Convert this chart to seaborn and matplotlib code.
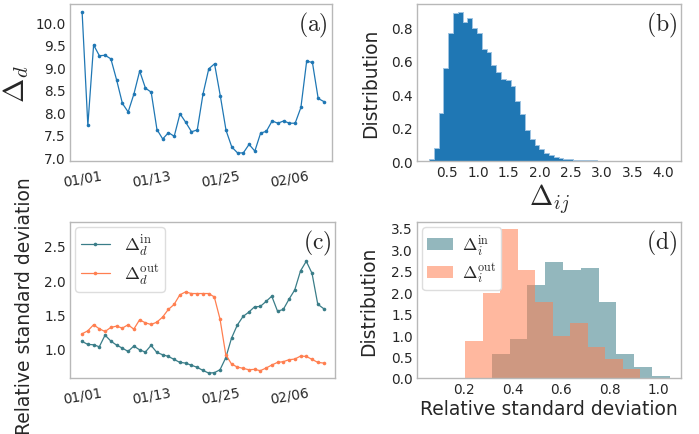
import numpy as np
import pandas as pd
import matplotlib
matplotlib.use('Agg')
import matplotlib.pyplot as plt
from matplotlib.patches import Patch
import seaborn as sns

sns.set_style('white')
plt.rcParams['font.family'] = ['DejaVu Sans']
plt.rcParams['mathtext.fontset'] = 'cm'

# ---------------- data ----------------
date_labels = ['01/01', '01/13', '01/25', '02/06']
date_tick_days = [0, 12, 24, 36]

delta_d = [10.24, 7.71, 9.50, 9.26, 9.27, 9.19, 8.72, 8.20, 8.01, 8.41,
           8.92, 8.54, 8.45, 7.62, 7.41, 7.55, 7.47, 7.97, 7.78, 7.57,
           7.61, 8.41, 8.97, 9.08, 8.37, 7.60, 7.23, 7.10, 7.10, 7.29,
           7.14, 7.54, 7.58, 7.81, 7.76, 7.81, 7.76, 7.76, 8.11, 9.14,
           9.11, 8.31, 8.24]

rsd_in = [1.107, 1.063, 1.058, 1.029, 1.199, 1.112, 1.053, 1.010, 0.961, 1.039,
          0.985, 0.951, 1.049, 0.947, 0.913, 0.888, 0.845, 0.801, 0.791, 0.760,
          0.730, 0.685, 0.646, 0.650, 0.694, 0.869, 1.155, 1.345, 1.471, 1.534,
          1.612, 1.617, 1.690, 1.767, 1.549, 1.573, 1.723, 1.859, 2.136, 2.277,
          2.102, 1.650, 1.587]

rsd_out = [1.218, 1.262, 1.350, 1.291, 1.252, 1.311, 1.330, 1.301, 1.350, 1.286,
           1.422, 1.379, 1.354, 1.388, 1.461, 1.573, 1.646, 1.786, 1.830, 1.806,
           1.806, 1.806, 1.806, 1.757, 1.432, 0.913, 0.777, 0.733, 0.714, 0.694,
           0.699, 0.680, 0.718, 0.762, 0.801, 0.811, 0.840, 0.849, 0.893, 0.888,
           0.845, 0.801, 0.791]

dij_start, dij_width = 0.21, 0.0776
dij_density = [0.012, 0.076, 0.287, 0.559, 0.768, 0.886, 0.890, 0.830, 0.858, 0.796,
               0.768, 0.667, 0.651, 0.577, 0.535, 0.492, 0.486, 0.450, 0.356, 0.279,
               0.187, 0.133, 0.094, 0.074, 0.050, 0.034, 0.024, 0.018, 0.013, 0.009,
               0.006, 0.005, 0.004, 0.003, 0.003, 0.002, 0.002, 0.001, 0.001, 0.001,
               0.001, 0.001, 0.0005, 0.0005, 0.0005, 0.0005, 0.0003, 0.0003, 0.0003, 0.0003]

in_start, in_width = 0.314, 0.0734
in_density = [0.565, 0.90, 2.17, 2.69, 2.51, 2.55, 1.76, 0.565, 0.25, 0.054]

out_start, out_width = 0.204, 0.0722
out_density = [0.87, 1.97, 3.46, 2.51, 1.78, 0.976, 1.29, 0.73, 0.44, 0.22]

# ---------------- style ----------------
W, H = 699, 435
fig = plt.figure(figsize=(W / 100, H / 100), dpi=100)

SPINE = '#b8b8b8'
TICK_FS = 9.8
LAB_FS = 13.5
PANEL_FS = 17
C_BLUE = '#1f77b4'
C_IN = '#3a7d88'
C_OUT = '#ff7f50'


def box(l, t, r, b):
    return [l / W, 1 - b / H, (r - l) / W, (b - t) / H]


def style(ax):
    for s in ax.spines.values():
        s.set_color(SPINE)
        s.set_linewidth(1.0)
    ax.tick_params(axis='both', which='major', labelsize=TICK_FS, length=0, pad=3)


def panel(ax, txt):
    ax.text(0.985, 0.965, r'$\mathrm{(%s)}$' % txt, transform=ax.transAxes,
            ha='right', va='top', fontsize=PANEL_FS)


def date_axis(ax, n):
    ax.set_xticks(date_tick_days)
    ax.set_xticklabels(date_labels, rotation=10)
    ax.set_xticks(np.arange(n), minor=True)
    ax.tick_params(axis='x', which='minor', length=2, width=0.6, color='#999999')
    ax.tick_params(axis='x', which='major', length=2, width=0.6, color='#999999')


# (a)
ax_a = fig.add_axes(box(70, 5, 332, 162))
days = np.arange(len(delta_d))
sns.lineplot(x=days, y=delta_d, ax=ax_a, color=C_BLUE, lw=0.9,
             marker='o', ms=2.6, mew=0)
style(ax_a)
date_axis(ax_a, len(delta_d))
ax_a.set_xlim(-2.1, 43.4)
ax_a.set_ylim(6.92, 10.41)
ax_a.set_yticks([7.0, 7.5, 8.0, 8.5, 9.0, 9.5, 10.0])
ax_a.set_ylabel(r'$\Delta_d$', fontsize=21)
ax_a.yaxis.set_label_coords(-0.15, 0.5)
ax_a.set_xlabel('')
panel(ax_a, 'a')

# (b)
ax_b = fig.add_axes(box(417, 5, 681, 162))
n_b = len(dij_density)
centers_b = dij_start + dij_width * (np.arange(n_b) + 0.5)
sns.histplot(x=centers_b, weights=dij_density, bins=n_b,
             binrange=(dij_start, dij_start + n_b * dij_width),
             ax=ax_b, color=C_BLUE, alpha=1.0, element='step',
             edgecolor='#9fc4e2', linewidth=0.7)
style(ax_b)
ax_b.set_xlim(0.015, 4.286)
ax_b.set_ylim(0, 0.939)
ax_b.set_xticks([0.5, 1.0, 1.5, 2.0, 2.5, 3.0, 3.5, 4.0])
ax_b.set_yticks([0.0, 0.2, 0.4, 0.6, 0.8])
ax_b.set_ylabel('Distribution', fontsize=LAB_FS)
ax_b.yaxis.set_label_coords(-0.14, 0.5)
ax_b.set_xlabel(r'$\Delta_{ij}$', fontsize=20, labelpad=2)
panel(ax_b, 'b')

# (c)
ax_c = fig.add_axes(box(70, 223, 335, 379))
days_c = np.arange(len(rsd_in))
sns.lineplot(x=days_c, y=rsd_in, ax=ax_c, color=C_IN, lw=0.9,
             marker='o', ms=2.6, mew=0, label=r'$\Delta_d^{\mathrm{in}}$')
sns.lineplot(x=days_c, y=rsd_out, ax=ax_c, color=C_OUT, lw=0.9,
             marker='o', ms=2.6, mew=0, label=r'$\Delta_d^{\mathrm{out}}$')
style(ax_c)
date_axis(ax_c, len(rsd_in))
ax_c.set_xlim(-2.1, 44.0)
ax_c.set_ylim(0.573, 2.85)
ax_c.set_yticks([1.0, 1.5, 2.0, 2.5])
ax_c.set_ylabel('Relative standard deviation', fontsize=LAB_FS)
ax_c.yaxis.set_label_coords(-0.135, 0.47)
ax_c.set_xlabel('')
ax_c.legend(loc='upper left', fontsize=13, handlelength=1.6, borderpad=0.3,
            labelspacing=0.2, handletextpad=0.8, borderaxespad=0.3, framealpha=1,
            edgecolor='#dddddd')
panel(ax_c, 'c')

# (d)
ax_d = fig.add_axes(box(417, 223, 681, 379))
n_in = len(in_density)
centers_in = in_start + in_width * (np.arange(n_in) + 0.5)
sns.histplot(x=centers_in, weights=in_density, bins=n_in,
             binrange=(in_start, in_start + n_in * in_width),
             ax=ax_d, color=C_IN, alpha=0.55, linewidth=0)
n_out = len(out_density)
centers_out = out_start + out_width * (np.arange(n_out) + 0.5)
sns.histplot(x=centers_out, weights=out_density, bins=n_out,
             binrange=(out_start, out_start + n_out * out_width),
             ax=ax_d, color=C_OUT, alpha=0.55, linewidth=0)
style(ax_d)
ax_d.set_xlim(0.005, 1.095)
ax_d.set_ylim(0, 3.63)
ax_d.set_xticks([0.2, 0.4, 0.6, 0.8, 1.0])
ax_d.set_yticks([0.0, 0.5, 1.0, 1.5, 2.0, 2.5, 3.0, 3.5])
ax_d.set_ylabel('Distribution', fontsize=LAB_FS)
ax_d.yaxis.set_label_coords(-0.148, 0.5)
ax_d.set_xlabel('Relative standard deviation', fontsize=LAB_FS, labelpad=2)
handles = [Patch(facecolor=C_IN, alpha=0.55, edgecolor='none'),
           Patch(facecolor=C_OUT, alpha=0.55, edgecolor='none')]
ax_d.legend(handles, [r'$\Delta_i^{\mathrm{in}}$', r'$\Delta_i^{\mathrm{out}}$'],
            loc='upper left', fontsize=12.5, handlelength=1.5, borderpad=0.3,
            labelspacing=0.2, handletextpad=0.5, borderaxespad=0.3, framealpha=1,
            edgecolor='#dddddd')
panel(ax_d, 'd')

fig.savefig('out.png', dpi=100)
